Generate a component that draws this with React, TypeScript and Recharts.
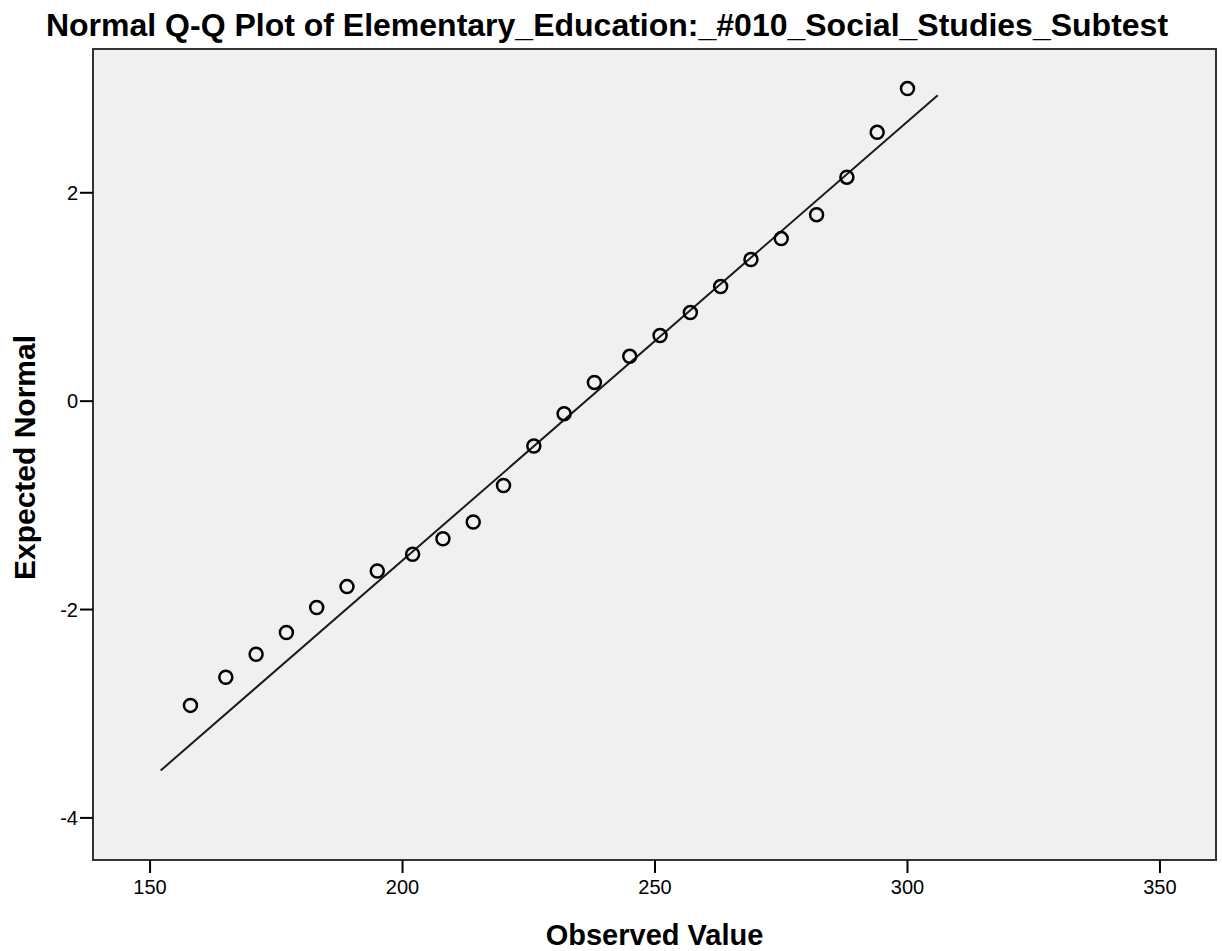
import React from "react"
import { ScatterChart, Scatter, XAxis, YAxis, ReferenceArea } from "recharts"

// observed scores and their expected normal quantiles
const observed = [158, 165, 171, 177, 183, 189, 195, 202, 208, 214, 220, 226, 232, 238, 245, 251, 257, 263, 269, 275, 282, 288, 294, 300]
const expected = [-2.92, -2.65, -2.43, -2.22, -1.98, -1.78, -1.63, -1.47, -1.32, -1.16, -0.81, -0.43, -0.12, 0.18, 0.43, 0.63, 0.85, 1.1, 1.36, 1.56, 1.79, 2.15, 2.58, 3.0]

// end points of the reference line
const lineX = [152.1, 306.0]
const lineY = [-3.545, 2.936]

const xTicks = [150, 200, 250, 300, 350]
const yTicks = [-4, -2, 0, 2]
const xDomain = [138.7, 361.1]
const yDomain = [-4.404, 3.38]

const points = observed.map((v, i) => ({ x: v, y: expected[i] }))
const fitLine = lineX.map((v, i) => ({ x: v, y: lineY[i] }))

const font = "'Liberation Sans', Arial, sans-serif"

const OpenCircle = (props: any) => (
    <circle cx={props.cx} cy={props.cy} r={6.5} fill="none" stroke="#000" strokeWidth={2.5} />
)

const XTitle = (props: any) => {
    const vb = props.viewBox
    return (
        <text x={vb.x + vb.width / 2} y={vb.y + 85} textAnchor="middle" fontFamily={font} fontWeight="bold" fontSize={29} fill="#000">
            Observed Value
        </text>
    )
}

const YTitle = (props: any) => {
    const vb = props.viewBox
    const cx = vb.x + 35
    const cy = vb.y + vb.height / 2 + 3
    return (
        <text x={cx} y={cy} transform={`rotate(-90, ${cx}, ${cy})`} textAnchor="middle" fontFamily={font} fontWeight="bold" fontSize={30} fill="#000">
            Expected Normal
        </text>
    )
}

export default function App() {
    return (
        <div style={{ position: "absolute", left: 0, top: 0, width: 1222, height: 951, background: "#fff" }}>
            <div
                style={{
                    position: "absolute",
                    left: 0,
                    top: 9,
                    width: 1214,
                    textAlign: "center",
                    fontFamily: font,
                    fontWeight: "bold",
                    fontSize: 32,
                    lineHeight: "32px",
                    color: "#000",
                }}
            >
                Normal Q-Q Plot of Elementary_Education:_#010_Social_Studies_Subtest
            </div>
            <ScatterChart width={1222} height={951} margin={{ top: 49, right: 6, bottom: 0, left: 0 }}>
                <ReferenceArea
                    x1={xDomain[0]}
                    x2={xDomain[1]}
                    y1={yDomain[0]}
                    y2={yDomain[1]}
                    fill="#f0f0f0"
                    fillOpacity={1}
                    stroke="#333"
                    strokeWidth={2}
                />
                <XAxis
                    type="number"
                    dataKey="x"
                    domain={xDomain}
                    allowDataOverflow
                    ticks={xTicks}
                    height={91}
                    tickSize={13}
                    tickMargin={7}
                    axisLine={{ stroke: "#333", strokeWidth: 2 }}
                    tickLine={{ stroke: "#000", strokeWidth: 2 }}
                    tick={{ fontSize: 20, fill: "#000", fontFamily: font }}
                    label={<XTitle />}
                />
                <YAxis
                    type="number"
                    dataKey="y"
                    domain={yDomain}
                    allowDataOverflow
                    ticks={yTicks}
                    width={93}
                    tickSize={13}
                    tickMargin={2}
                    axisLine={{ stroke: "#333", strokeWidth: 2 }}
                    tickLine={{ stroke: "#000", strokeWidth: 2 }}
                    tick={{ fontSize: 20, fill: "#000", fontFamily: font }}
                    label={<YTitle />}
                />
                <Scatter
                    data={fitLine}
                    line={{ stroke: "#1a1a1a", strokeWidth: 2 }}
                    shape={() => <g />}
                    isAnimationActive={false}
                />
                <Scatter data={points} shape={OpenCircle} isAnimationActive={false} />
            </ScatterChart>
        </div>
    )
}
